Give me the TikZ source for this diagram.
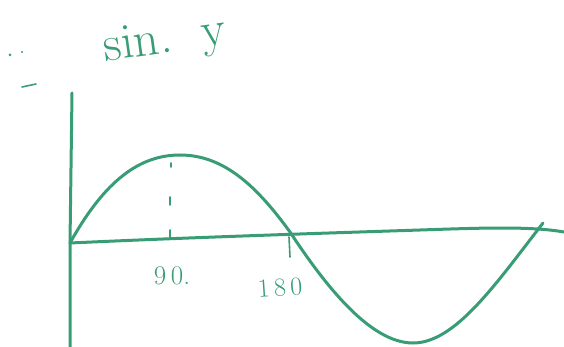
\documentclass[tikz,border=0pt]{standalone}
\usepackage{tikz}
\usetikzlibrary{calc}
\definecolor{marker}{RGB}{56,156,116}
\tikzset{ink/.style={draw=marker,line width=3pt,line cap=round,line join=round},
  thin ink/.style={draw=marker,line width=1.6pt,line cap=round},
  scribble/.style={text=marker,inner sep=0pt}}

\begin{document}
\begin{tikzpicture}[x=1pt,y=-1pt]
\useasboundingbox[fill=white] (0,0) rectangle (564,347);
% axes
\coordinate (O) at (70,243);\coordinate (ytop) at (72,93);\coordinate (ybot) at (70,347);\coordinate (xend) at (564,232);
\draw[ink] (ybot) -- (O) -- (ytop);
\draw[ink] (O) .. controls (200,237) and (330,233) .. (420,230) .. controls (480,228) and (530,226) .. (xend);
% the curve
\coordinate (top) at (180,155);\coordinate (cross) at (290,232);\coordinate (bottom) at (413,343);\coordinate (cend) at (543,223);
\draw[ink] (O) .. controls (105,180) and (140,155) .. (top) .. controls (225,155) and (258,188) .. (cross)
  .. controls (325,285) and (370,343) .. (bottom) .. controls (455,343) and (495,285) .. (cend);
% ticks
\draw[thin ink] (171,163)--(171,167);\draw[thin ink] (170,197)--(170,205);\draw[thin ink] (170,230)--(170,238);
\draw[thin ink] (289,237)--(290,257);
\node[scribble,font=\fontsize{27}{27}\selectfont] (ninety) at (172,276) {9\,0.};
\node[scribble,font=\fontsize{26}{26}\selectfont,rotate=4] (oneeighty) at (280,288) {1\,8\,0};
% title
\node[scribble,font=\fontsize{50}{50}\selectfont,rotate=8] (title) at (165,42) {sin.\hspace{.6em}y};
% stray marks
\fill[marker] (10,55) circle(1.5);\fill[marker] (22,52) circle(1.2);
\draw[thin ink] (22,87)--(36,84);
\end{tikzpicture}
\end{document}
